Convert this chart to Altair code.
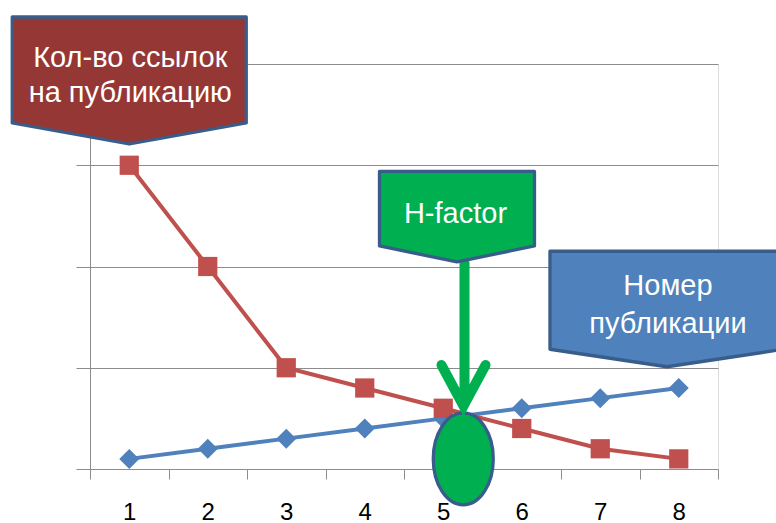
import altair as alt
import pandas as pd

# ---- data ----
publications = [1, 2, 3, 4, 5, 6, 7, 8]
pub_numbers = [1, 2, 3, 4, 5, 6, 7, 8]          # blue series
citations = [30, 20, 10, 8, 6, 4, 2, 1]         # red series
series_names = ["Номер публикации", "Кол-во ссылок на публикацию"]
series_colors = ["#4F81BD", "#C0504D"]

# callout anchors (data coordinates of the pointer tip)
callout_x = [1.0, 5.175, 7.85]
callout_y = [32.0, 20.35, 10.0]
callout_fill = ["#953735", "#00B050", "#4F81BD"]
callout_shape = [
    "M-117,-128 H117 V-22 L0,-1 L-117,-22 Z",
    "M-77.5,-91.5 H77.5 V-17 L0,-1 L-77.5,-17 Z",
    "M-117,-116.5 H117 V-18.5 L0,-1 L-117,-18.5 Z",
]
text_lines = ["Кол-во ссылок", "на публикацию", "H-factor", "Номер", "публикации"]
text_callout = [0, 0, 1, 2, 2]
text_dx = [1, 1, -1.5, 1, 1]
text_dy = [-78, -43, -40, -73, -35]

# H-factor marker (ellipse) and arrow anchors
ellipse_x, ellipse_y = 5.255, 1.0
arrow_x, arrow_y = 5.258, 6.22

GRAY = "#8C8C8C"
BORDER = "#385D8A"

xs = alt.Scale(domain=[0.5, 8.5], nice=False, zero=False)
ys = alt.Scale(domain=[0, 40], nice=False, zero=True)

x_ticks = [0.5 + i * 0.5 for i in range(17)]
xaxis = alt.Axis(
    values=x_ticks,
    labelExpr="datum.value % 1 == 0 ? format(datum.value, 'd') : ''",
    tickOpacity={"condition": {"test": "datum.value % 1 != 0", "value": 1}, "value": 0},
    tickSize=10, tickColor=GRAY, domainColor=GRAY, tickWidth=1, domainWidth=1,
    labelFontSize=24, labelColor="black",
    labelFont="Liberation Sans Narrow, Liberation Sans, Arial",
    labelPadding=21, labelFlush=False, labelOverlap=False,
    grid=False, title=None,
)
yaxis = alt.Axis(
    values=[0, 10, 20, 30, 40], labels=False, tickSize=14,
    tickColor=GRAY, domainColor=GRAY, gridColor=GRAY, grid=True,
    tickWidth=1, domainWidth=1, gridWidth=1, title=None,
)

def X():
    return alt.X("pub:Q", scale=xs, axis=xaxis)

def Y():
    return alt.Y("value:Q", scale=ys, axis=yaxis)

blue_df = pd.DataFrame({"pub": publications, "value": pub_numbers, "series": series_names[0]})
red_df = pd.DataFrame({"pub": publications, "value": citations, "series": series_names[1]})

blue_line = alt.Chart(blue_df).mark_line(color=series_colors[0], strokeWidth=4).encode(x=X(), y=Y())
blue_pts = alt.Chart(blue_df).mark_point(shape="diamond", size=400, filled=True,
                                         color=series_colors[0], opacity=1).encode(x=X(), y=Y())
red_line = alt.Chart(red_df).mark_line(color=series_colors[1], strokeWidth=4).encode(x=X(), y=Y())
red_pts = alt.Chart(red_df).mark_point(shape="square", size=370, filled=True,
                                       color=series_colors[1], opacity=1).encode(x=X(), y=Y())

ell_df = pd.DataFrame({"pub": [ellipse_x], "value": [ellipse_y]})
ellipse = alt.Chart(ell_df).mark_point(
    shape="M-30,0 A30,46 0 1,0 30,0 A30,46 0 1,0 -30,0 Z", size=4, filled=True,
    fill="#00B050", stroke=BORDER, strokeWidth=3.3, opacity=1,
).encode(x=X(), y=Y())

arrow_df = pd.DataFrame({"pub": [arrow_x], "value": [arrow_y]})
arrow = alt.Chart(arrow_df).mark_point(
    shape="M1,-143 L1,-6 M-22,-41 L0,0 L22,-41", size=4, filled=False,
    stroke="#00B050", strokeWidth=10, strokeCap="round", strokeJoin="miter", opacity=1,
).encode(x=X(), y=Y())

callouts = []
for i in range(3):
    d = pd.DataFrame({"pub": [callout_x[i]], "value": [callout_y[i]]})
    callouts.append(
        alt.Chart(d).mark_point(
            shape=callout_shape[i], size=4, filled=True, fill=callout_fill[i],
            stroke=BORDER, strokeWidth=3.3, strokeJoin="round", opacity=1,
        ).encode(x=X(), y=Y())
    )

texts = []
for t, c, dx, dy in zip(text_lines, text_callout, text_dx, text_dy):
    d = pd.DataFrame({"pub": [callout_x[c]], "value": [callout_y[c]], "label": [t]})
    texts.append(
        alt.Chart(d).mark_text(
            font="Liberation Sans", fontSize=29, color="white", align="center",
            baseline="alphabetic", dx=dx, dy=dy,
        ).encode(x=X(), y=Y(), text="label:N")
    )

chart = alt.layer(
    blue_line, blue_pts, red_line, red_pts, ellipse, arrow, *callouts, *texts
).properties(
    width=628, height=405,
    autosize=alt.AutoSizeParams(type="none"),
    padding={"left": 90, "top": 64, "right": 58, "bottom": 54},
).configure_view(stroke=None).configure(background="white")

page_css = (
    "html,body{margin:0;padding:0;overflow:hidden;}"
    ".vega-embed{display:block;padding:0;}"
    ".vega-embed svg{display:block;}"
)

chart.save("out.html", embed_options={"renderer": "svg", "actions": False,
                                      "defaultStyle": page_css})
